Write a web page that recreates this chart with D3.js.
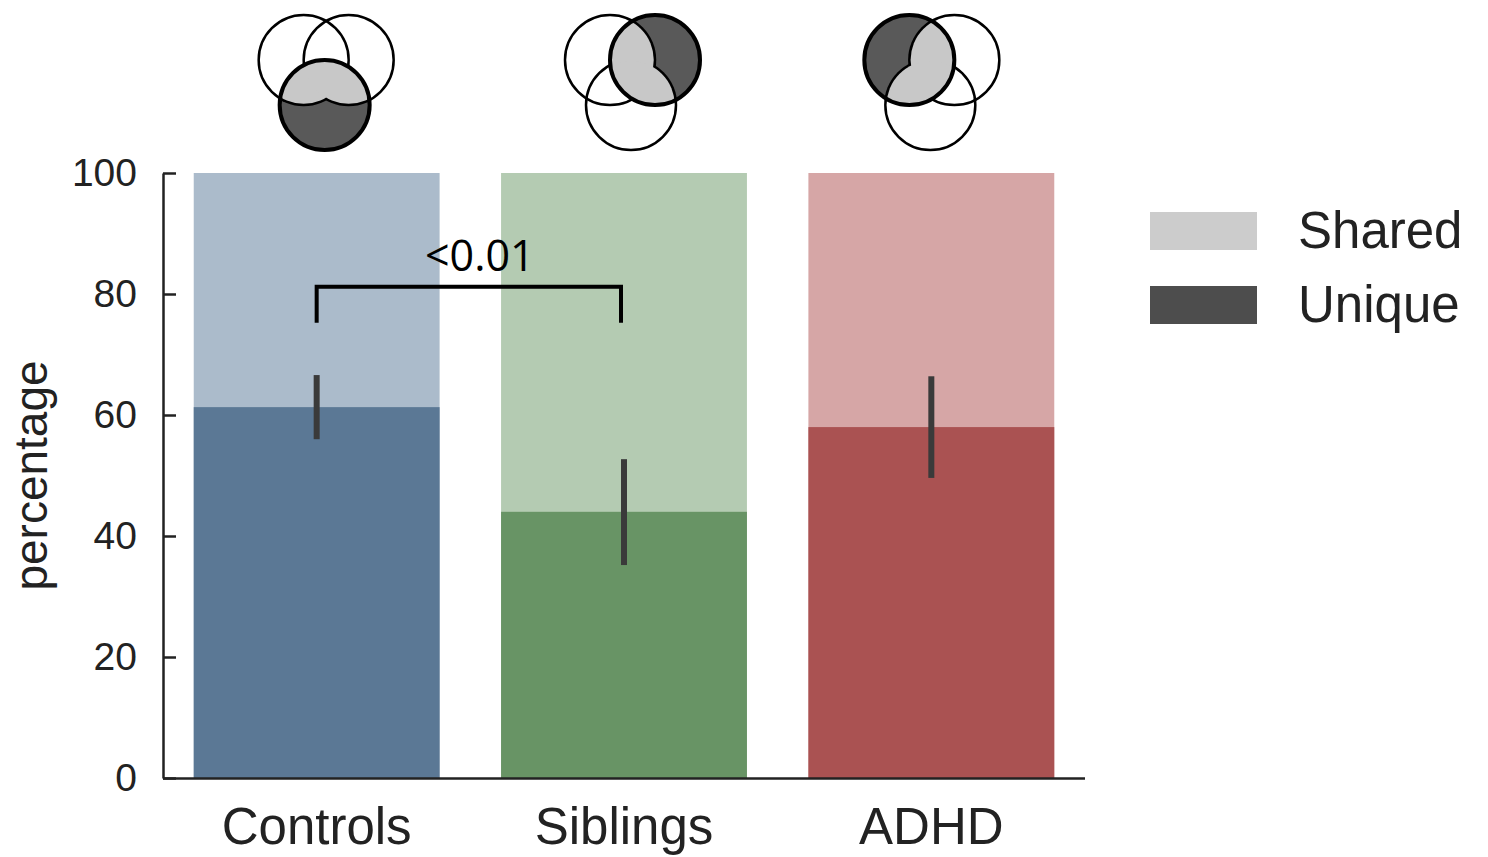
<!DOCTYPE html>
<html>
<head>
<meta charset="utf-8">
<script src="https://cdn.jsdelivr.net/npm/d3@7"></script>
<style>
  body { margin: 0; background: #fff; }
  svg { display: block; }
</style>
</head>
<body>
<div id="chart"></div>
<script>
// --- Data ---
const categories = ["Controls", "Siblings", "ADHD"];
const uniqueValues = [61.3, 44.0, 58.0];   // dark part of each bar
const totalValues = [100, 100, 100];       // light bar goes to 100
const errLow = [56.0, 35.2, 49.6];
const errHigh = [66.6, 52.7, 66.4];
const yTickValues = [0, 20, 40, 60, 80, 100];
const legendLabels = ["Shared", "Unique"];
// which circle of the venn is highlighted: 0 = top-left, 1 = top-right, 2 = bottom
const vennHighlight = [2, 1, 0];
const annotation = { from: "Controls", to: "Siblings", y: 81.2, label: "<0.01" };

// --- Colours ---
const darkColors = ["#5b7895", "#689465", "#aa5252"];
const lightColors = ["#abbbcb", "#b4cbb2", "#d6a6a6"];
const legendColors = ["#cccccc", "#4d4d4d"];
const textColor = "#222";

const W = 1488, H = 857;
const svg = d3.select("#chart").append("svg")
  .attr("width", W).attr("height", H);

// --- Scales ---
const x = d3.scaleBand()
  .domain(categories)
  .range([163, 1085])
  .paddingInner(0.2)
  .paddingOuter(0.1);

const y = d3.scaleLinear()
  .domain([0, 100])
  .range([778, 173]);

// --- Bars ---
const bars = svg.append("g");
categories.forEach((c, i) => {
  bars.append("rect")
    .attr("x", x(c)).attr("width", x.bandwidth())
    .attr("y", y(totalValues[i])).attr("height", y(0) - y(totalValues[i]))
    .attr("fill", lightColors[i]);
  bars.append("rect")
    .attr("x", x(c)).attr("width", x.bandwidth())
    .attr("y", y(uniqueValues[i])).attr("height", y(0) - y(uniqueValues[i]))
    .attr("fill", darkColors[i]);
});

// --- Error bars ---
svg.append("g").selectAll("line")
  .data(categories)
  .join("line")
    .attr("x1", d => x(d) + x.bandwidth() / 2)
    .attr("x2", d => x(d) + x.bandwidth() / 2)
    .attr("y1", (d, i) => y(errLow[i]))
    .attr("y2", (d, i) => y(errHigh[i]))
    .attr("stroke", "#3a3a3a")
    .attr("stroke-width", 6);

// --- Axes ---
const yAxis = svg.append("g")
  .attr("transform", `translate(${x.range()[0]},0)`)
  .call(d3.axisLeft(y).tickValues(yTickValues).tickSize(-13).tickSizeOuter(0).tickPadding(26));
yAxis.selectAll("line, path").attr("stroke", textColor).attr("stroke-width", 2.5);
yAxis.selectAll("text")
  .attr("fill", textColor)
  .style("font-family", "'Liberation Sans', Arial, sans-serif")
  .style("font-size", "39px");

const xAxis = svg.append("g")
  .attr("transform", `translate(0,${y(0)})`)
  .call(d3.axisBottom(x).tickSize(0).tickSizeOuter(0).tickPadding(30));
xAxis.select("path").attr("stroke", textColor).attr("stroke-width", 2.5)
  .attr("d", `M${x.range()[0]},0.5H${x.range()[1]}`);
xAxis.selectAll("text")
  .attr("fill", textColor)
  .style("font-family", "'Liberation Sans', Arial, sans-serif")
  .style("font-size", "51px");

svg.append("text")
  .attr("transform", `translate(47,${(y(0) + y(100)) / 2}) rotate(-90)`)
  .attr("text-anchor", "middle")
  .attr("fill", textColor)
  .style("font-family", "'Liberation Sans', Arial, sans-serif")
  .style("font-size", "46px")
  .text("percentage");

// --- Significance bracket ---
const bx1 = x(annotation.from) + x.bandwidth() / 2;
const bx2 = x(annotation.to) + x.bandwidth() / 2 - 3;
const by = y(annotation.y);
svg.append("path")
  .attr("d", `M${bx1},${by + 36}V${by}H${bx2}V${by + 36}`)
  .attr("fill", "none")
  .attr("stroke", "#000")
  .attr("stroke-width", 4);
svg.append("text")
  .attr("x", (bx1 + bx2) / 2 + 11)
  .attr("y", by - 16)
  .attr("text-anchor", "middle")
  .attr("fill", "#000")
  .style("font-family", "'Open Sans', sans-serif")
  .style("font-size", "43px")
  .text(annotation.label);

// --- Legend ---
const legend = svg.append("g").attr("transform", "translate(1150,212)");
legendLabels.forEach((l, i) => {
  const g = legend.append("g").attr("transform", `translate(0,${i * 74})`);
  g.append("rect").attr("width", 107).attr("height", 38).attr("fill", legendColors[i]);
  g.append("text")
    .attr("x", 148).attr("y", 36)
    .attr("fill", textColor)
    .style("font-family", "'Liberation Sans', Arial, sans-serif")
    .style("font-size", "51px")
    .text(l);
});

// --- Venn icons ---
const r = 45;
const vennOffsets = [[-22, -16], [23, -16], [-1, 29]];
const vennShift = [9, 8, 0];
const defs = svg.append("defs");
categories.forEach((c, i) => {
  const cx = x(c) + x.bandwidth() / 2 + vennShift[i];
  const cy = 76;
  const g = svg.append("g").attr("transform", `translate(${cx},${cy})`);
  const h = vennHighlight[i];
  const others = vennOffsets.filter((o, k) => k !== h);
  const ho = vennOffsets[h];

  // plain circles
  others.forEach(o => {
    g.append("circle").attr("cx", o[0]).attr("cy", o[1]).attr("r", r)
      .attr("fill", "none").attr("stroke", "#000").attr("stroke-width", 2.5);
  });
  // highlighted circle: unique part
  g.append("circle").attr("cx", ho[0]).attr("cy", ho[1]).attr("r", r)
    .attr("fill", "#595959");
  // shared part, clipped to the highlighted circle
  const clipId = "clip" + i;
  defs.append("clipPath").attr("id", clipId)
    .append("circle").attr("cx", cx + ho[0]).attr("cy", cy + ho[1]).attr("r", r);
  const shared = svg.append("g").attr("clip-path", `url(#${clipId})`)
    .append("g").attr("transform", `translate(${cx},${cy})`);
  others.forEach(o => {
    shared.append("circle").attr("cx", o[0]).attr("cy", o[1]).attr("r", r + 1.25).attr("fill", "#000");
  });
  others.forEach(o => {
    shared.append("circle").attr("cx", o[0]).attr("cy", o[1]).attr("r", r - 1.25).attr("fill", "#c8c8c8");
  });
  // thick outline
  svg.append("circle").attr("cx", cx + ho[0]).attr("cy", cy + ho[1]).attr("r", r)
    .attr("fill", "none").attr("stroke", "#000").attr("stroke-width", 4);
});
</script>
</body>
</html>
